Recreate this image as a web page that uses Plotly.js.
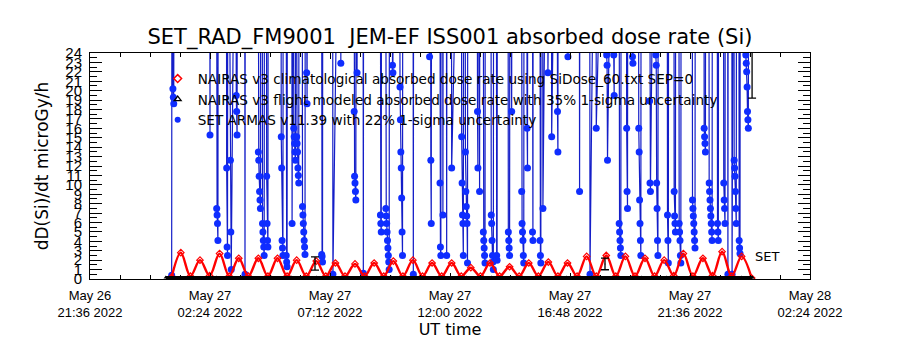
<!DOCTYPE html>
<html>
<head>
<meta charset="utf-8">
<script src="https://cdn.plot.ly/plotly-3.0.1.min.js"></script>
<style>html,body{margin:0;padding:0;background:#fff;}#chart{width:900px;height:350px;}</style>
</head>
<body>
<div id="chart"></div>
<script>
// ---- data (minutes after 2022-05-27 00:00 UT) ----
const baseDay = '2022-05-27T00:00:00Z';

// NAIRAS v3 climatological (red): alternating trough / peak readings
const nairasClimMin = [52,74,97,120,143,167,190,213,236,260,283,306,329,352,375,399,422,445,468,492,515,538,561,584,607,631,654,677,700,724,747,770,793,816,839,863,886,909,932,956,979,1002,1025,1048,1071,1095,1118,1141,1164,1188,1211,1234,1257,1280,1303,1327,1350,1373,1396,1420,1444];
const nairasClimVal = [0.2,2.8,0.3,2.0,0.35,2.7,0.3,2.2,0.3,2.2,0.3,2.2,0.3,2.0,0.3,1.9,0.3,1.7,0.3,1.6,0.3,1.7,0.3,1.9,0.3,2.0,0.3,1.7,0.3,1.7,0.3,1.2,0.3,1.7,0.3,1.3,0.3,1.7,0.3,1.8,0.3,1.7,0.3,2.4,0.3,2.5,0.3,2.4,0.3,2.2,0.3,2.0,0.35,2.7,0.3,2.2,0.35,2.9,0.3,2.4,0.1];

// NAIRAS v3 flight modeled (black)
const nairasFltMin = [38,100,160,220,280,340,400,460,520,580,640,700,760,820,880,940,1000,1060,1120,1180,1240,1300,1360,1420,1446];
const nairasFltVal = [0.15,0.15,0.15,0.15,0.15,0.15,0.15,0.15,0.15,0.15,0.15,0.15,0.15,0.15,0.15,0.15,0.15,0.15,0.15,0.15,0.15,0.15,0.15,0.15,0.15];

// sampled 1-sigma error bars
const errMin = [396,1092,1445];
const errVal = [1.65,1.6,24.6];
const errSig = [0.7,0.62,5.4];

// SET ARMAS (blue); 60 = off scale (above 24)
const setMin = [
52,53, 55,56,57,58,
143,144,145,
159,160,161,162,163,164,
183,184,185,186,187,
192,193,194,195,196,
206,207,208,209,210,
227,228,229,
259,260,261,262,263,264,265,266,
269,270,271,272,273,274,275,
279,280,281,282,283,284,
314,315,316,317,318,319,320,
326,327,328,329,330,
340,341,342,
344,345,346,347,348,349,350,
351,352,353,354,355,356,357,358,
365,366,367,368,369,370,371,372,373,
375,376,377,378,
411,412,413,414,415,
438,439,440,
457,458,459,
489,490,491,492,493,494,495,
496,497,498,
511,512,513,
552,553,554,555,556,
565,566,567,568,569,570,571,572,573,574,575,
581,582,583,584,
599,600,601,602,603,604,605,606,607,
631,632,633,
670,671,672,
673,674,675,676,
695,696,697,698,699,
702,703,704,
711,712,713,
723,724,725,
747,748,749,750,751,752,753,
756,757,758,759,760,761,762,763,
785,786,787,788,
790,791,792,
799,800,801,802,803,804,805,
818,819,820,821,822,823,824,825,
831,832,833,834,
859,860,861,862,863,864,
867,868,869,
891,892,893,894,895,896,897,898,
904,905,906,907,
917,918,919,920,
935,936,937,938,939,
942,943,944,
954,955,956,
963,964,965,
977,978,979,980,
1002,1003,1004,
1030,1031,1032,
1055,1056,1057,
1070,1071,1072,
1095,1096,1097,1098,1099,
1112,1113,1114,1115,
1125,1126,1127,1128,1129,1130,1131,
1143,1144,1145,1146,1147,
1157,1158,1159,1160,
1172,1173,1174,1175,1176,1177,1178,1179,
1198,1199,1200,1201,1202,
1213,1214,1215,1216,1217,1218,1219,1220,
1241,1242,1243,1244,1245,
1257,1258,1259,1260,1261,1262,
1269,1270,1271,1272,1273,1274,1275,
1301,1302,1303,1304,1305,1306,1307,1308,1309,
1329,1330,1331,1332,1333,1334,
1341,1342,1343,1344,1345,1346,1347,1348,1349,1350,
1361,1362,1363,1364,1365,
1376,1377,1378,1379,1380,1381,
1386,1387,1388,
1396,1397,1398,
1401,1402,1403,1404,1405,1406,1407,1408,
1413,1414,1415,1416,1417,
1429,1430,1431,1432,1433,1434,1435,1436,1437
];
const setVal = [
0.4,60, 20.2,19.3,18.6,60,
60,15.3,60,
60,7.5,6.8,5.9,4.1,60,
60,11.8,3.4,2.5,60,
60,12.6,5.0,1.0,60,
60,19.5,17.8,15.3,60,
60,0.5,60,
60,13.5,12.6,10.9,9.3,8.4,7.5,60,
60,5.9,5.0,4.1,3.4,2.5,60,
60,10.9,5.9,4.1,3.4,60,
60,15.1,11.8,4.1,3.3,2.5,60,
60,2.5,1.8,1.3,60,
60,5.9,60,
60,16.0,15.1,14.4,13.5,12.6,60,
60,15.1,14.4,13.5,11.8,11.0,10.2,60,
60,7.7,6.8,5.9,5.0,4.1,3.4,2.6,60,
60,21.9,18.6,60,
60,2.6,2.4,1.8,60,
60,0.5,60,
60,22.9,60,
60,17.8,10.9,10.2,9.3,8.4,60,
60,21.9,60,
60,0.6,60,
60,6.8,5.9,5.0,60,
60,7.5,6.7,5.9,5.0,4.1,3.3,2.5,1.8,1.0,60,
60,22.7,21.9,60,
60,20.4,16.9,13.5,11.8,8.6,5.0,2.5,60,
60,0.5,60,
60,23.6,60,
60,12.6,5.9,60,
60,10.2,3.4,2.5,60,
60,6.8,60,
60,2.5,60,
60,11.8,60,
60,15.1,10.2,6.8,5.9,2.5,60,
60,13.5,9.3,7.7,6.7,5.9,1.7,60,
60,17.8,11.8,60,
60,9.3,60,
60,5.0,4.1,3.3,2.5,1.7,60,
60,6.8,5.9,4.1,2.5,1.8,1.0,60,
60,2.5,2.0,60,
60,5.0,4.1,3.3,2.5,60,
60,17.8,60,
60,9.3,5.9,5.0,4.1,2.5,1.7,60,
60,16.0,11.8,60,
60,5.0,4.1,60,
60,4.1,2.5,1.7,60,
60,7.5,60,
60,21.9,60,
60,15.1,60,
60,17.8,13.5,60,
60,23.6,60,
60,9.3,60,
60,0.5,60,
60,16.0,60,
60,23.8,22.7,12.6,60,
60,23.8,19.5,60,
60,5.9,5.0,4.1,3.3,2.5,60,
60,16.0,9.3,7.5,60,
60,23.6,22.9,60,
60,16.0,13.5,8.4,5.9,4.1,2.5,60,
60,18.9,10.2,9.3,60,
60,23.8,22.7,10.2,7.5,4.1,2.5,60,
60,6.8,4.1,1.7,60,
60,9.3,6.7,5.9,5.0,60,
60,5.9,5.0,4.1,2.5,1.7,60,
60,8.4,7.5,6.7,5.9,5.0,4.1,3.3,60,
60,16.0,15.1,14.4,13.5,60,
60,10.2,9.3,8.4,7.5,6.7,5.9,5.0,4.1,60,
60,5.9,5.0,4.1,60,
60,10.2,8.4,7.5,5.9,60,
60,0.5,60,
60,0.5,60,
60,12.6,11.8,10.9,9.3,7.5,5.9,60,
60,4.1,3.3,2.7,60,
60,23.8,22.9,22.0,20.4,17.8,16.9,16.0,60
];

const xRangeMin = [-144, 1584];
const yRange = [0, 24];

const legendNames = [
  'NAIRAS v3 climatological absorbed dose rate using SiDose_60.txt SEP=0',
  'NAIRAS v3 flight modeled absorbed dose rate with 35% 1-sigma uncertainty',
  'SET ARMAS v11.39 with 22% 1-sigma uncertainty'
];

// ---- helpers ----
const base = Date.parse(baseDay);
function toDate(m){ return new Date(base + m*60000).toISOString().replace('T',' ').slice(0,19); }

const tickFont = 'Liberation Sans, sans-serif';
const textFont = 'DejaVu Sans, sans-serif';
const BLUE_L = 'rgb(20,30,200)', BLUE_M = 'rgb(15,45,255)', RED = 'rgb(255,0,0)';

const traces = [
  { // SET ARMAS
    x: setMin.map(toDate), y: setVal, mode: 'lines+markers', showlegend: false,
    line: {color: BLUE_L, width: 1.2},
    marker: {symbol: 'circle', size: 7, color: BLUE_M}
  },
  { // NAIRAS clim
    x: nairasClimMin.map(toDate), y: nairasClimVal, mode: 'lines+markers', showlegend: false,
    line: {color: RED, width: 2.4, shape: 'spline', smoothing: 1},
    marker: {symbol: 'diamond-open', size: 5, color: RED, line: {width: 1.2}}
  },
  { // NAIRAS flight
    x: nairasFltMin.map(toDate), y: nairasFltVal, mode: 'lines+markers', showlegend: false,
    line: {color: 'black', width: 3},
    marker: {symbol: 'triangle-up', size: 4, color: 'black'}
  },
  { // error bars
    x: errMin.map(toDate), y: errVal, mode: 'markers', showlegend: false,
    marker: {size: 1, color: 'black'},
    error_y: {type: 'data', array: errSig, visible: true, color: 'black', thickness: 1.3, width: 4}
  },
  // legend entries (no data)
  { x: [null], y: [null], mode: 'markers', name: legendNames[0], showlegend: true,
    marker: {symbol: 'diamond-open', size: 6, color: RED, line: {width: 1.5}} },
  { x: [null], y: [null], mode: 'markers', name: legendNames[1], showlegend: true,
    marker: {symbol: 'triangle-up-open', size: 6, color: 'black', line: {width: 1.3}} },
  { x: [null], y: [null], mode: 'markers', name: legendNames[2], showlegend: true,
    marker: {symbol: 'circle', size: 6, color: BLUE_M} }
];

const layout = {
  width: 900, height: 350,
  margin: {l: 90, r: 90, t: 53, b: 71},
  paper_bgcolor: 'white', plot_bgcolor: 'white',
  font: {family: textFont, color: 'black'},
  title: {text: 'SET_RAD_FM9001\u00a0 JEM-EF ISS001 absorbed dose rate (Si)',
          x: 0.5, xanchor: 'center', y: 1 - 37/350, yanchor: 'middle',
          font: {family: textFont, size: 21, color: 'black'}},
  showlegend: true,
  legend: {x: 0.094, y: 0.955, xanchor: 'left', yanchor: 'top', bgcolor: 'rgba(0,0,0,0)',
           itemwidth: 30, tracegroupgap: 0, font: {family: textFont, size: 13.6, color: 'black'}},
  xaxis: {
    type: 'date', range: xRangeMin.map(toDate),
    tick0: toDate(xRangeMin[0]), dtick: 4.8*3600000,
    tickformat: '%b %d<br>%H:%M %Y',
    ticks: 'inside', ticklen: 6, tickcolor: 'black', tickwidth: 1,
    minor: {dtick: 1.2*3600000, ticks: 'inside', ticklen: 4, tickcolor: 'black', showgrid: false},
    showline: true, linecolor: 'black', linewidth: 1, mirror: 'ticks',
    showgrid: false, zeroline: false,
    tickfont: {family: tickFont, size: 13, color: 'black'},
    ticklabelstandoff: 4,
    title: {text: 'UT time', standoff: 5, font: {family: textFont, size: 16, color: 'black'}}
  },
  yaxis: {
    range: yRange, tick0: 0, dtick: 1,
    ticks: 'inside', ticklen: 12, tickcolor: 'black', tickwidth: 1,
    minor: {dtick: 0.5, ticks: 'inside', ticklen: 7, tickcolor: 'black', showgrid: false},
    showline: true, linecolor: 'black', linewidth: 1, mirror: 'ticks',
    showgrid: false, zeroline: false,
    tickfont: {family: tickFont, size: 15, color: 'black'},
    ticklabelstandoff: 4,
    title: {text: 'dD(Si)/dt microGy/h', standoff: 12, font: {family: textFont, size: 17, color: 'black'}}
  },
  annotations: [
    {xref: 'x', yref: 'y', x: toDate(1448), y: 2.4, text: 'SET', showarrow: false,
     xanchor: 'left', yanchor: 'middle', font: {family: textFont, size: 13, color: 'black'}}
  ]
};

Plotly.newPlot('chart', traces, layout, {staticPlot: true, displayModeBar: false});
</script>
</body>
</html>
